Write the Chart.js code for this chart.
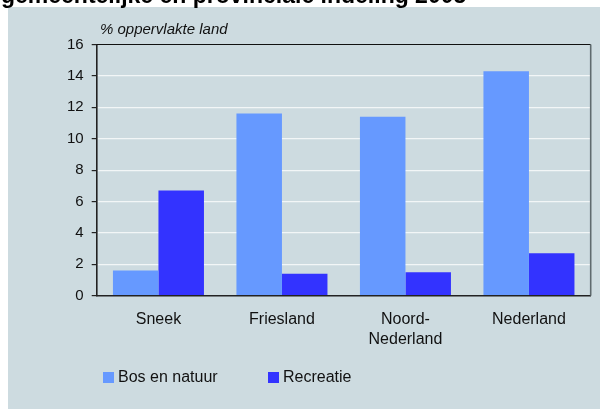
<!DOCTYPE html>
<html>
<head>
<meta charset="utf-8">
<title>Bos en natuur / Recreatie</title>
<script src="https://cdn.jsdelivr.net/npm/chart.js"></script>
<style>
  html, body { margin: 0; padding: 0; background: #fff; overflow: hidden; }
  #wrap { position: relative; width: 600px; height: 409px; }
</style>
</head>
<body>
<div id="wrap"><canvas id="chart" width="600" height="409"></canvas></div>
<script>
// data
const categories = ['Sneek', 'Friesland', ['Noord-', 'Nederland'], 'Nederland'];
const bosEnNatuur = [1.6, 11.6, 11.4, 14.3];
const recreatie = [6.7, 1.4, 1.5, 2.7];
const yTicks = [0, 2, 4, 6, 8, 10, 12, 14, 16];

const titleText = 'gemeentelijke en provinciale indeling 2005';
const yTitle = '% oppervlakte land';
const panelColor = '#CDDBE0';
const font = 'Arial, "Liberation Sans", sans-serif';

// panel background, cut-off title, axis title, legend and box around the plot
const decor = {
  id: 'decor',
  beforeDraw(chart) {
    const ctx = chart.ctx;
    ctx.save();
    ctx.fillStyle = '#fff';
    ctx.fillRect(0, 0, chart.width, chart.height);
    ctx.fillStyle = panelColor;
    ctx.fillRect(8, 7, chart.width - 8, chart.height - 7);
    ctx.fillStyle = '#000';
    ctx.font = 'bold 23px ' + font;
    ctx.textBaseline = 'alphabetic';
    ctx.fillText(titleText, 1, 2.5);
    ctx.restore();
  },
  afterDraw(chart) {
    const ctx = chart.ctx;
    const a = chart.chartArea;
    ctx.save();
    ctx.fillStyle = '#111';
    ctx.font = 'italic 15px ' + font;
    ctx.textBaseline = 'alphabetic';
    ctx.fillText(yTitle, 100, 34);

    // plot frame: top and right
    ctx.lineWidth = 1.2;
    ctx.strokeStyle = '#111';
    ctx.beginPath();
    ctx.moveTo(a.left, a.top);
    ctx.lineTo(a.right, a.top);
    ctx.stroke();
    ctx.strokeStyle = '#5f6a6e';
    ctx.lineWidth = 1.6;
    ctx.beginPath();
    ctx.moveTo(a.right, a.top);
    ctx.lineTo(a.right, a.bottom);
    ctx.stroke();

    // legend
    const legendX = [103, 268];
    ctx.font = '16px ' + font;
    ctx.textBaseline = 'middle';
    chart.data.datasets.forEach((ds, i) => {
      ctx.fillStyle = ds.backgroundColor;
      ctx.fillRect(legendX[i], 372, 11, 11);
      ctx.fillStyle = '#111';
      ctx.fillText(ds.label, legendX[i] + 15, 378);
    });
    ctx.restore();
  }
};

new Chart(document.getElementById('chart'), {
  type: 'bar',
  data: {
    labels: categories,
    datasets: [
      { label: 'Bos en natuur', data: bosEnNatuur, backgroundColor: '#6699FF' },
      { label: 'Recreatie', data: recreatie, backgroundColor: '#3333FF' }
    ]
  },
  options: {
    responsive: false,
    animation: false,
    devicePixelRatio: 1,
    datasets: { bar: { categoryPercentage: 0.737, barPercentage: 1.0 } },
    layout: { padding: { left: 56, right: 9.3, top: 44.5, bottom: 53.3 } },
    plugins: {
      title: { display: false },
      tooltip: { enabled: false },
      legend: { display: false }
    },
    scales: {
      x: {
        afterFit(scale) { scale.height = 60; },
        grid: { display: false, drawTicks: false },
        border: { display: true, color: '#222', width: 1.6 },
        ticks: {
          padding: 14,
          color: '#111',
          maxRotation: 0,
          font: { family: font, size: 16, lineHeight: 1.25 }
        }
      },
      y: {
        min: 0,
        max: 16,
        afterFit(scale) { scale.width = 40.7; },
        afterBuildTicks(scale) { scale.ticks = yTicks.map(v => ({ value: v })); },
        grid: {
          color: (c) => (c.tick && (c.tick.value === 0 || c.tick.value === 16)) ? 'rgba(0,0,0,0)' : '#F2F6F7',
          lineWidth: 1.2,
          drawTicks: true,
          tickLength: 5,
          tickColor: '#222'
        },
        border: { display: true, color: '#222', width: 1.6 },
        ticks: {
          padding: 8,
          color: '#111',
          font: { family: font, size: 15 }
        }
      }
    }
  },
  plugins: [decor]
});
</script>
</body>
</html>
